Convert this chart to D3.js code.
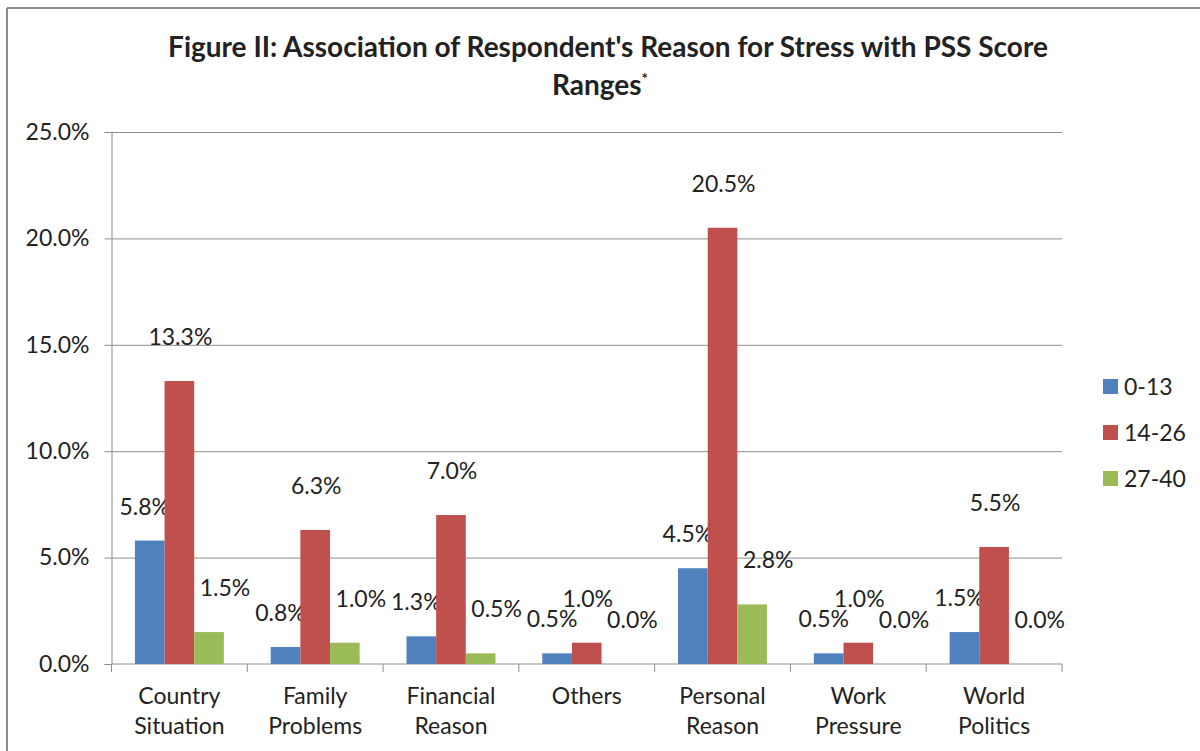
<!DOCTYPE html>
<html lang="en">
<head>
    <meta charset="UTF-8">
    <script src="https://d3js.org/d3.v7.min.js"></script>
    <title>Figure II</title>
    <style>
        body { margin: 0; background: #fff; }
        text { font-family: Lato, "Open Sans", sans-serif; fill: #222; }
    </style>
</head>
<body>
    <div id='canvas'></div>
</body>
<script>
    // data
    const categories = ["Country Situation", "Family Problems", "Financial Reason", "Others", "Personal Reason", "Work Pressure", "World Politics"]
    const seriesNames = ["0-13", "14-26", "27-40"]
    const low = [5.8, 0.8, 1.3, 0.5, 4.5, 0.5, 1.5]
    const mid = [13.3, 6.3, 7.0, 1.0, 20.5, 1.0, 5.5]
    const high = [1.5, 1.0, 0.5, 0.0, 2.8, 0.0, 0.0]
    const yTicks = [0, 5, 10, 15, 20, 25]

    const colors = ["#4F81BD", "#C0504D", "#9BBB59"]
    // label nudges per series (Excel moved them around a bit)
    const labelDx = [-5, 1, 16]
    const labelDy = [-34, -44, -44]
    const fs = 23

    const W = 1200, H = 751
    const plotL = 111.5, plotR = 1062, plotT = 132, plotB = 664

    const svg = d3.select("#canvas").append("svg").attr("width", W).attr("height", H)

    // outer chart border (only top and left show in the crop)
    svg.append("line").attr("x1", 7).attr("x2", W).attr("y1", 8).attr("y2", 8).attr("stroke", "#8c8c8c").attr("stroke-width", 2)
    svg.append("line").attr("x1", 7).attr("x2", 7).attr("y1", 8).attr("y2", H).attr("stroke", "#8c8c8c").attr("stroke-width", 2)

    const x = d3.scaleBand().domain(categories).range([plotL, plotR]).paddingInner(0).paddingOuter(0)
    const xs = d3.scaleBand().domain(seriesNames).range([0, x.bandwidth()]).paddingInner(0).paddingOuter(0.79)
    const y = d3.scaleLinear().domain([0, 25]).range([plotB, plotT])

    // gridlines
    svg.append("g").attr("transform", `translate(${plotL},0)`)
        .call(d3.axisLeft(y).tickValues(yTicks.slice(1)).tickSize(-(plotR - plotL)).tickFormat(""))
        .call(g => g.select(".domain").remove())
        .call(g => g.selectAll("line").attr("stroke", "#8c8c8c"))

    // y axis
    svg.append("g").attr("transform", `translate(${plotL},0)`)
        .call(d3.axisLeft(y).tickValues(yTicks).tickSize(7).tickPadding(15).tickFormat(d => d.toFixed(1) + "%"))
        .call(g => g.select(".domain").attr("stroke", "#8c8c8c"))
        .call(g => g.selectAll("line").attr("stroke", "#8c8c8c"))
        .call(g => g.selectAll("text").attr("font-size", fs).attr("fill", "#222").attr("font-family", "Lato"))

    // x axis baseline + boundary ticks
    svg.append("line").attr("x1", plotL).attr("x2", plotR).attr("y1", plotB).attr("y2", plotB).attr("stroke", "#8c8c8c")
    const bounds = categories.map(c => x(c)).concat([plotR])
    svg.selectAll(".xtick").data(bounds).enter().append("line")
        .attr("x1", d => d).attr("x2", d => d)
        .attr("y1", plotB).attr("y2", plotB + 8)
        .attr("stroke", "#8c8c8c")

    // category labels (two lines)
    const catLabels = svg.selectAll(".cat").data(categories).enter().append("text")
        .attr("x", d => x(d) + x.bandwidth() / 2)
        .attr("y", plotB + 40)
        .attr("text-anchor", "middle")
        .attr("font-size", fs)
    catLabels.selectAll("tspan").data(d => d.split(" ")).enter().append("tspan")
        .attr("x", function() { return this.parentNode.getAttribute("x") })
        .attr("dy", (d, i) => i == 0 ? 0 : 30)
        .text(d => d)

    // bars
    const series = [low, mid, high]
    series.forEach((vals, s) => {
        const g = svg.append("g")
        g.selectAll("rect").data(vals).enter().append("rect")
            .attr("x", (d, i) => x(categories[i]) + xs(seriesNames[s]))
            .attr("width", xs.bandwidth())
            .attr("y", d => y(d))
            .attr("height", d => plotB - y(d))
            .attr("fill", colors[s])
        g.selectAll("text").data(vals).enter().append("text")
            .attr("x", (d, i) => x(categories[i]) + xs(seriesNames[s]) + xs.bandwidth() / 2 + labelDx[s])
            .attr("y", d => y(d) + labelDy[s])
            .attr("dy", "0.35em")
            .attr("text-anchor", "middle")
            .attr("font-size", fs)
            .text(d => d.toFixed(1) + "%")
    })

    // title
    const title = svg.append("text").attr("x", 608).attr("y", 57).attr("text-anchor", "middle")
        .attr("font-size", 28).attr("font-weight", "bold")
    title.append("tspan").text("Figure II: Association of Respondent's Reason for Stress with PSS Score")
    title.append("tspan").attr("x", 600).attr("dy", 38).text("Ranges")
    title.append("tspan").attr("dy", -11).attr("font-size", 15).text("*")

    // legend
    const legend = svg.selectAll(".leg").data(seriesNames).enter().append("g")
        .attr("transform", (d, i) => `translate(1103,${379 + i * 46})`)
    legend.append("rect").attr("width", 15).attr("height", 15).attr("fill", (d, i) => colors[i])
    legend.append("text").attr("x", 21).attr("y", 7.5).attr("dy", "0.35em").attr("font-size", fs).text(d => d)
</script>
</html>
